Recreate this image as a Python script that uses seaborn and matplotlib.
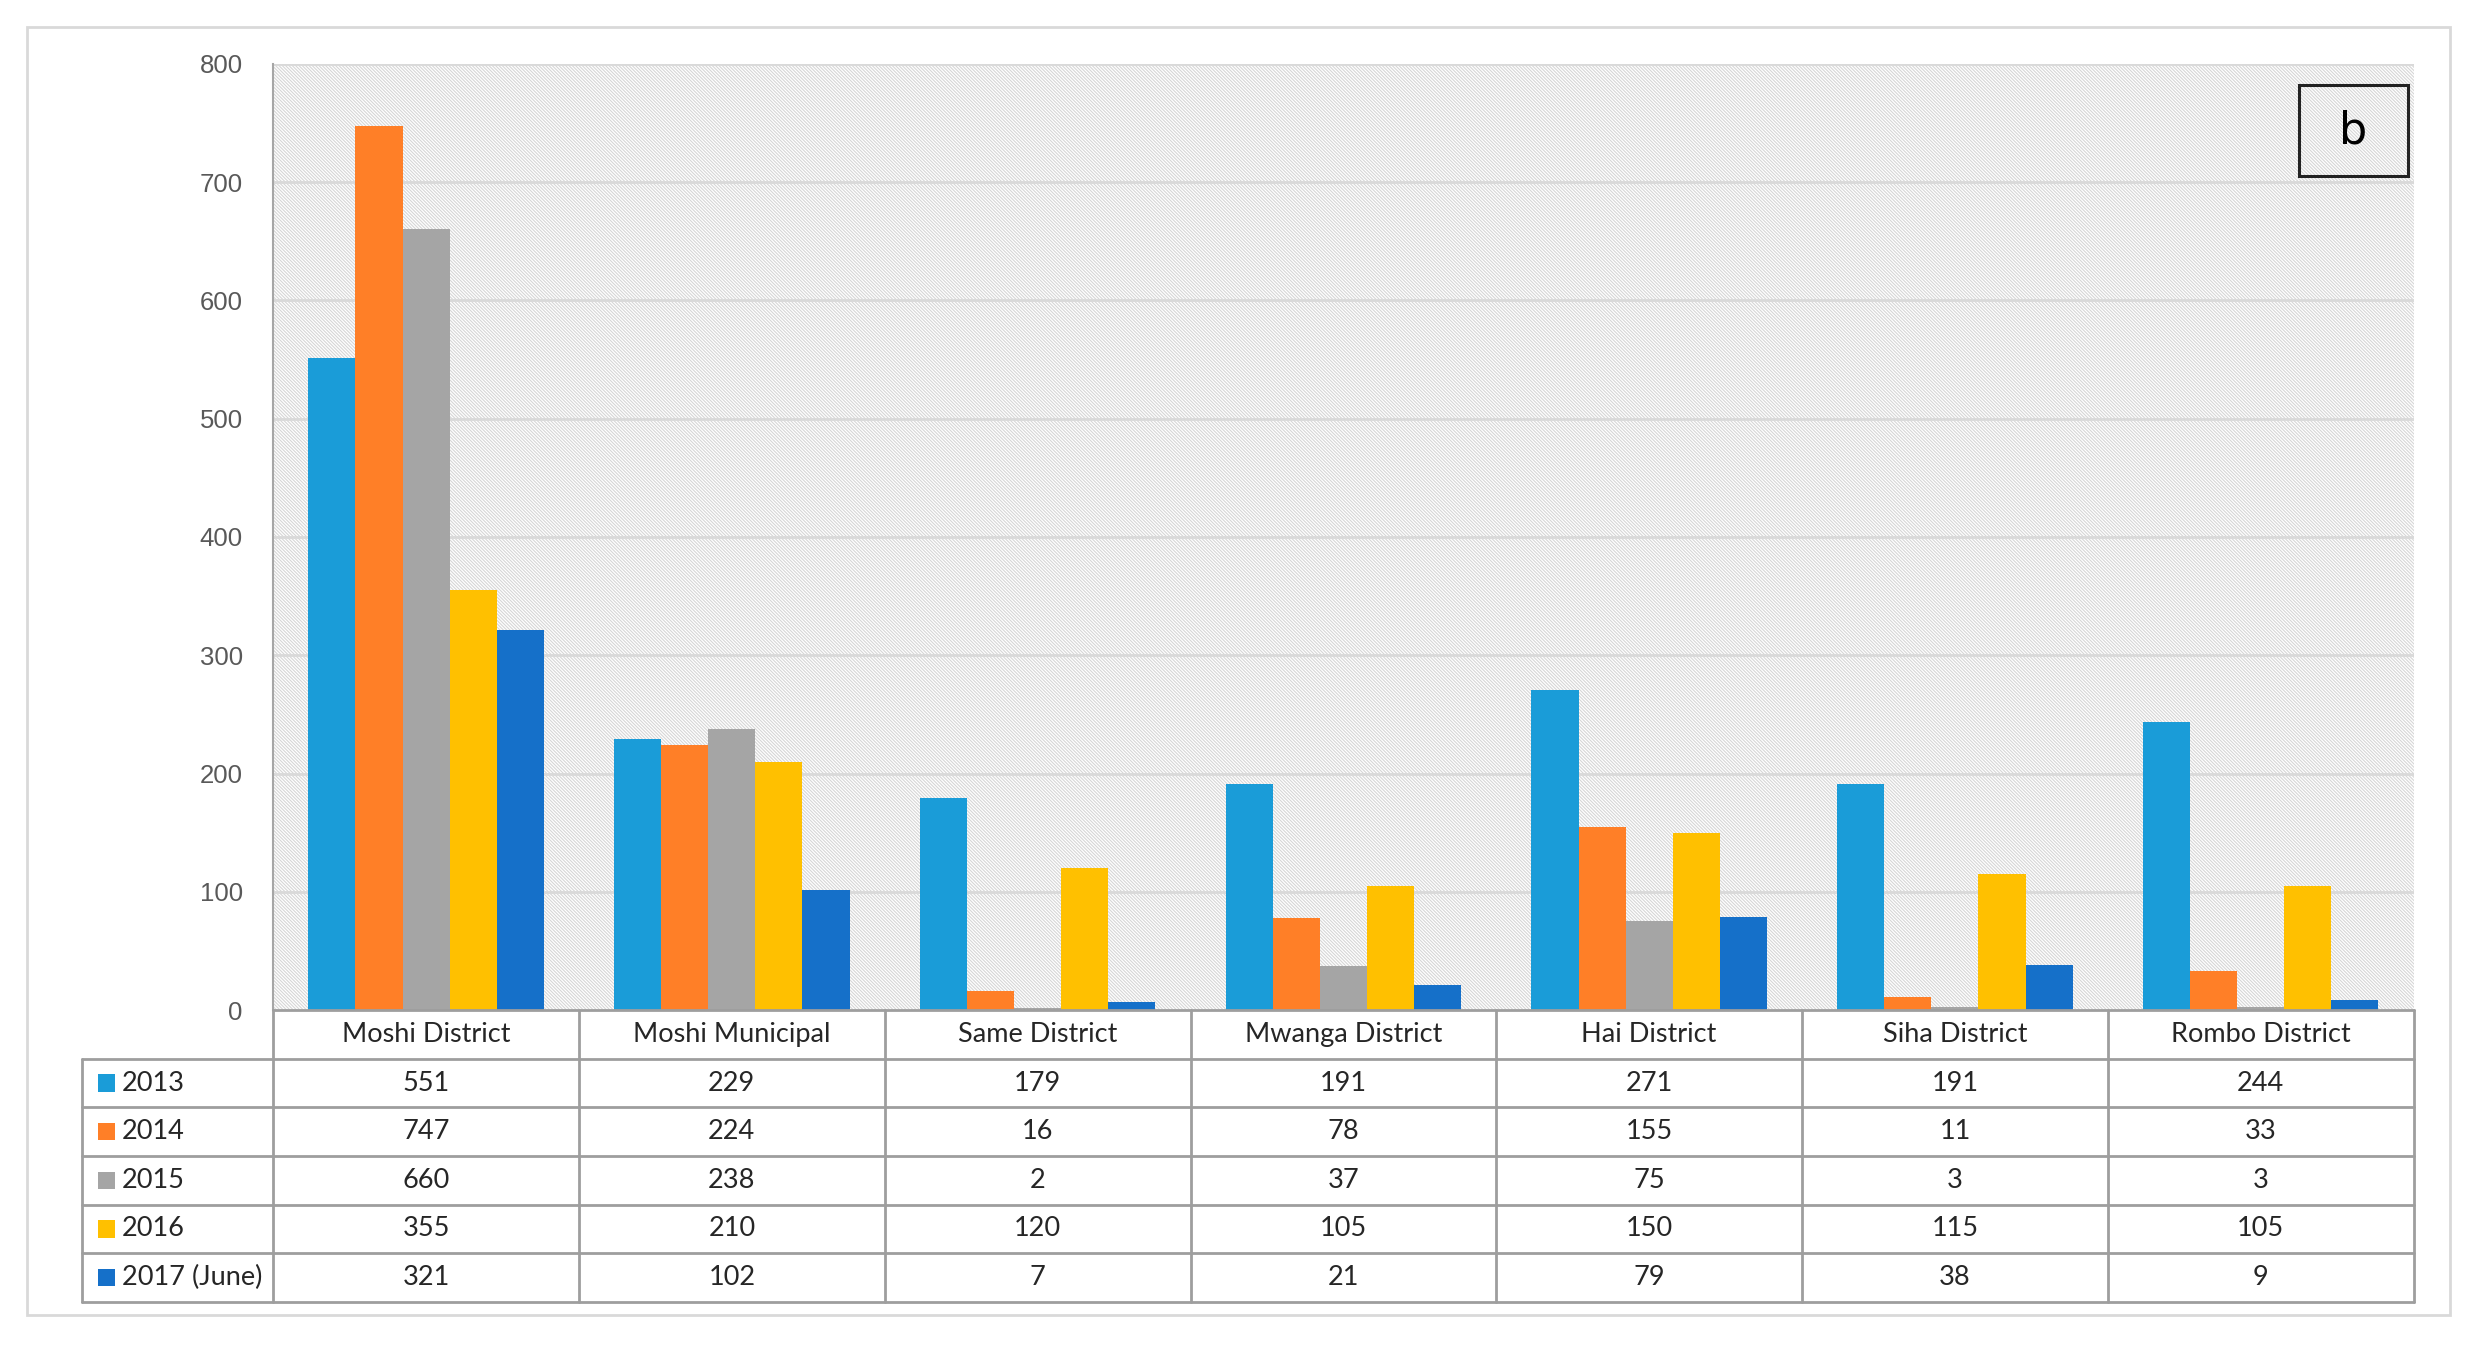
import pandas as pd
import matplotlib
matplotlib.use("Agg")
import matplotlib.pyplot as plt
from matplotlib.patches import Rectangle
import seaborn as sns

# data
districts = ["Moshi District", "Moshi Municipal", "Same District", "Mwanga District",
             "Hai District", "Siha District", "Rombo District"]
years = ["2013", "2014", "2015", "2016", "2017 (June)"]
v2013 = [551, 229, 179, 191, 271, 191, 244]
v2014 = [747, 224, 16, 78, 155, 11, 33]
v2015 = [660, 238, 2, 37, 75, 3, 3]
v2016 = [355, 210, 120, 105, 150, 115, 105]
v2017 = [321, 102, 7, 21, 79, 38, 9]
y_ticks = [0, 100, 200, 300, 400, 500, 600, 700, 800]
colors = ["#1A9CD8", "#FF7F27", "#A5A5A5", "#FFC000", "#1570C9"]

series = [v2013, v2014, v2015, v2016, v2017]
rows = []
for yr, vals in zip(years, series):
    for d, v in zip(districts, vals):
        rows.append({"District": d, "Year": yr, "Cases": v})
df = pd.DataFrame(rows)

sns.set_theme(style="white")
plt.rcParams["font.family"] = ["Lato", "DejaVu Sans"]
plt.rcParams["hatch.linewidth"] = 0.8

fig = plt.figure(figsize=(24.77, 13.56), dpi=100)
fig.patch.set_facecolor("white")

# outer light frame
fig.patches.append(Rectangle((0.0109, 0.030), 0.978, 0.950, transform=fig.transFigure,
                             fill=False, edgecolor="#D9D9D9", linewidth=2))

ax_left, ax_right, ax_bot, ax_top = 0.1103, 0.9744, 0.255, 0.953
ax = fig.add_axes([ax_left, ax_bot, ax_right - ax_left, ax_top - ax_bot])

# hatched background
ax.set_facecolor("white")
ax.add_patch(Rectangle((0, 0), 1, 1, transform=ax.transAxes, facecolor="white",
                       edgecolor="#D6D6D6", hatch="\\" * 10, linewidth=0, zorder=0))

sns.barplot(data=df, x="District", y="Cases", hue="Year", palette=colors,
            width=0.77, gap=0, saturation=1, ax=ax, legend=False, zorder=3,
            linewidth=0, edgecolor="none")

ax.set_xlim(-0.5, len(districts) - 0.5)
ax.set_ylim(0, 800)
ax.set_yticks(y_ticks)
ax.set_yticklabels([str(t) for t in y_ticks], color="#595959", fontsize=18.5,
                   family=["Liberation Sans", "DejaVu Sans"])
ax.tick_params(axis="y", length=0, pad=22)
ax.set_xticks([])
ax.set_xlabel("")
ax.set_ylabel("")
for t in y_ticks[1:]:
    ax.axhline(t, color="#D9D9D9", linewidth=2, zorder=1)
for s in ["top", "right", "bottom"]:
    ax.spines[s].set_visible(False)
ax.spines["left"].set_color("#A6A6A6")
ax.spines["left"].set_linewidth(1.5)

# label box "b"
fig.text(0.950, 0.9035, "b", fontsize=32, ha="center", va="center",
         family=["DejaVu Sans"], color="black")
fig.patches.append(Rectangle((0.928, 0.870), 0.044, 0.067, transform=fig.transFigure,
                             fill=False, edgecolor="#222222", linewidth=2.2))

# data table below the chart
tab_left, tab_bot = 0.0333, 0.040
unit = (ax_right - ax_left) / len(districts)
lead = (ax_left - tab_left) / unit
tax = fig.add_axes([tab_left, tab_bot, ax_right - tab_left, ax_bot - tab_bot])
nrows = len(years) + 1
x0, x1, xs = -0.5 - lead, len(districts) - 0.5, -0.5
tax.set_xlim(x0, x1)
tax.set_ylim(nrows, 0)
tax.axis("off")

line_kw = dict(color="#9E9E9E", linewidth=2, clip_on=False)
tax.plot([xs, x1], [0, 0], **line_kw)
for r in range(1, nrows + 1):
    tax.plot([x0, x1], [r, r], **line_kw)
tax.plot([x0, x0], [1, nrows], **line_kw)
for i in range(len(districts) + 1):
    tax.plot([i - 0.5, i - 0.5], [0, nrows], **line_kw)

txt_kw = dict(va="center", fontsize=19.5, color="#262626")
for i, d in enumerate(districts):
    tax.text(i, 0.5, d, ha="center", **txt_kw)
for r, (yr, vals, c) in enumerate(zip(years, series, colors), start=1):
    tax.add_patch(Rectangle((x0 + 0.05, r + 0.32), 0.055, 0.36, facecolor=c,
                            edgecolor="none"))
    tax.text(x0 + 0.13, r + 0.5, yr, ha="left", **txt_kw)
    for i, v in enumerate(vals):
        tax.text(i, r + 0.5, str(v), ha="center", **txt_kw)

fig.savefig("out.png", dpi=100, facecolor="white")
